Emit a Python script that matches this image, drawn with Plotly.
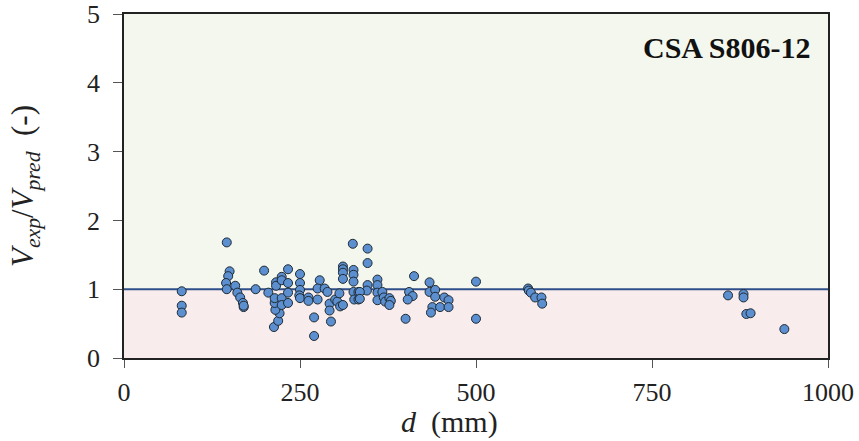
import plotly.graph_objects as go

# Data
d_mm = [82, 82, 82,
        146, 150, 148, 145, 146, 158, 161, 165, 169, 170, 170,
        187, 199, 205,
        213, 219, 221, 215, 214, 214, 216, 216, 224, 224, 224, 224,
        233, 233, 233, 233,
        250, 250, 250, 249, 250,
        262, 262, 270, 270,
        278, 275, 275, 285, 289, 292, 292, 294,
        300, 303, 307, 306,
        311, 311, 311, 311, 311,
        326, 326, 326, 325, 326, 327, 333, 333,
        346, 346, 346, 345, 335, 335,
        360, 360, 360, 360, 367, 369, 371, 377, 379, 377,
        400, 405, 410, 403, 412,
        434, 434, 442, 442, 438, 436, 449, 455, 461, 461,
        500, 500,
        574, 575, 578, 584, 593, 594,
        858, 880, 880, 884, 890, 938]
v_ratio = [0.97, 0.76, 0.66,
           1.68, 1.26, 1.19, 1.09, 1.00, 1.05, 0.95, 0.88, 0.80, 0.74, 0.76,
           1.00, 1.27, 0.95,
           0.45, 0.54, 0.65, 0.70, 0.80, 0.87, 1.10, 1.05, 1.18, 1.13, 0.87, 0.77,
           1.29, 1.09, 0.95, 0.80,
           1.22, 1.09, 0.99, 0.91, 0.87,
           0.88, 0.83, 0.59, 0.32,
           1.13, 1.01, 0.85, 1.01, 0.96, 0.79, 0.69, 0.53,
           0.85, 0.82, 0.75, 0.94,
           1.33, 1.29, 1.24, 1.15, 0.77,
           1.28, 1.21, 1.11, 1.66, 0.96, 0.85, 0.96, 0.85,
           1.59, 1.38, 1.06, 0.98, 0.96, 0.86,
           1.14, 1.06, 0.95, 0.84, 0.96, 0.88, 0.82, 0.87, 0.83, 0.77,
           0.57, 0.96, 0.90, 0.85, 1.19,
           1.10, 0.96, 0.99, 0.89, 0.74, 0.66, 0.74, 0.88, 0.84, 0.74,
           1.11, 0.57,
           1.01, 0.98, 0.95, 0.88, 0.88, 0.79,
           0.91, 0.93, 0.88, 0.64, 0.65, 0.42]

x_ticks = [0, 250, 500, 750, 1000]
y_ticks = [0, 1, 2, 3, 4, 5]
unity = 1.0
label = "CSA S806-12"

SERIF = "'Liberation Serif', 'DejaVu Serif', serif"

fig = go.Figure()
fig.add_trace(go.Scatter(
    x=d_mm, y=v_ratio, mode="markers",
    marker=dict(size=9, color="#5B8FD0", line=dict(color="#1F2A33", width=1)),
    showlegend=False, hoverinfo="x+y"))

fig.add_shape(type="rect", xref="paper", yref="y", x0=0, x1=1, y0=0, y1=unity,
              fillcolor="#F8EDEC", line_width=0, layer="below")
fig.add_shape(type="rect", xref="paper", yref="y", x0=0, x1=1, y0=unity, y1=5,
              fillcolor="#F4F7EE", line_width=0, layer="below")
fig.add_shape(type="line", xref="paper", yref="y", x0=0, x1=1, y0=unity, y1=unity,
              line=dict(color="#2E4F8A", width=2), layer="below")

fig.add_annotation(text="<b>" + label + "</b>", xref="paper", yref="paper",
                   x=0.978, y=0.904, xanchor="right", yanchor="middle",
                   showarrow=False, font=dict(family=SERIF, size=30, color="#111"))

# x-axis title (sits slightly left of centre in the reference)
fig.add_annotation(text="<i>d</i>  (mm)", xref="paper", yref="paper",
                   x=0.462, y=-0.187, xanchor="center", yanchor="middle",
                   showarrow=False, font=dict(family=SERIF, size=30, color="#222"))

fig.update_layout(
    width=859, height=441,
    margin=dict(l=124, r=31, t=14, b=83),
    paper_bgcolor="white", plot_bgcolor="white",
    font=dict(family=SERIF, size=26, color="#222"),
    xaxis=dict(range=[0, 1000], tickvals=x_ticks, ticks="outside", ticklen=8,
               tickcolor="#555", ticklabelstandoff=2, automargin=False,
               showgrid=False, zeroline=False, showline=True, linecolor="#222",
               linewidth=1.5, mirror=True),
    yaxis=dict(range=[0, 5], tickvals=y_ticks, ticks="outside", ticklen=9,
               tickcolor="#555", ticklabelstandoff=8, automargin=False,
               showgrid=False, zeroline=False, showline=True, linecolor="#222",
               linewidth=1.5, mirror=True,
               title=dict(text="<i>V<sub>exp</sub></i>/<i>V<sub>pred</sub></i>  (-)",
                          font=dict(size=31), standoff=44)),
)

fig.write_html("out.html")
